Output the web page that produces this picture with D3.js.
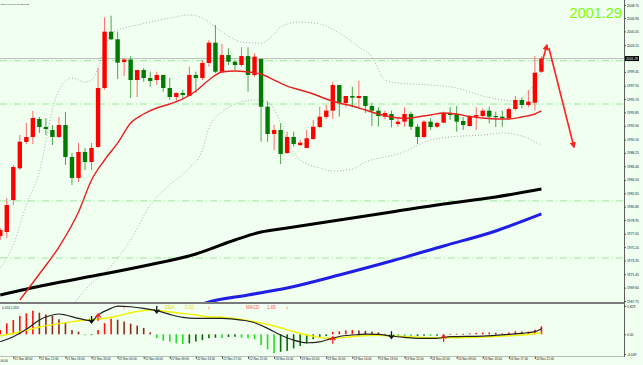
<!DOCTYPE html>
<html><head><meta charset="utf-8">
<script src="https://cdn.jsdelivr.net/npm/d3@7"></script>
<style>html,body{margin:0;padding:0;background:#F0FFF0;overflow:hidden}text{font-family:"Liberation Sans",Arial,sans-serif}</style>
</head><body><svg id="c" width="643" height="365"></svg>
<script>
// ---- DATA (bar index k runs from -2 to 81, hourly bars) ----
const firstBar = -2;
const openV  = [1976.74,1977.30,1981.72,1986.11,1989.75,1990.44,1992.93,1991.82,1991.41,1990.44,1992.10,1987.67,1984.77,1988.37,1986.98,1989.06,1997.22,2005.01,2003.96,2000.81,2001.16,1998.32,1999.71,1998.60,1998.32,1999.02,1997.22,1995.97,1996.53,1996.11,1999.02,1998.60,2000.68,2003.49,1999.47,2001.78,2000.86,2000.40,2001.64,1999.02,2001.23,1994.63,1990.85,1991.41,1988.22,1990.44,1989.33,1988.92,1990.16,1991.82,1993.21,1994.08,1997.63,1995.14,1996.11,1995.83,1996.11,1994.73,1994.08,1993.25,1993.62,1992.24,1992.56,1993.62,1991.86,1990.44,1992.56,1991.86,1992.42,1993.76,1993.62,1992.65,1991.96,1993.25,1993.34,1994.08,1993.34,1993.25,1993.03,1994.31,1995.56,1994.87,1995.18,1999.47];
const highV  = [1977.85,1982.00,1986.57,1990.72,1992.38,1994.04,1993.21,1993.07,1992.10,1993.21,1993.90,1988.22,1989.61,1988.92,1989.61,1999.98,2007.00,2007.22,2005.01,2001.37,2001.64,1999.71,1999.98,1999.47,1999.47,1999.02,1998.60,1996.57,1996.94,2000.16,1999.47,2001.09,2003.86,2005.93,2003.31,2002.71,2001.09,2002.85,2002.85,2002.02,2001.30,1995.32,1992.10,1992.33,1991.17,1991.17,1990.02,1991.41,1992.79,1994.63,1994.87,1998.09,1997.63,1996.11,1997.39,1998.23,1996.11,1995.18,1994.55,1994.08,1994.08,1993.03,1994.55,1993.94,1992.24,1992.79,1993.03,1992.56,1993.94,1994.55,1994.73,1993.21,1993.48,1994.55,1994.41,1994.63,1993.94,1994.08,1994.55,1996.11,1995.93,1996.94,2001.64,2001.60];
const lowV   = [1976.19,1976.47,1981.03,1985.87,1989.47,1989.47,1990.99,1990.72,1989.33,1990.30,1986.57,1983.80,1984.21,1985.87,1985.87,1988.92,1996.94,2003.86,1998.46,1998.88,1995.83,1995.97,1998.09,1997.39,1997.63,1996.71,1995.56,1995.32,1995.83,1996.11,1996.53,1998.32,2000.16,1999.29,1999.29,2000.40,1999.71,2000.16,1996.71,1998.78,1989.79,1989.79,1988.64,1986.70,1988.09,1989.10,1989.19,1988.87,1990.02,1991.64,1992.93,1992.93,1993.25,1994.55,1994.55,1994.55,1993.76,1991.96,1991.86,1992.89,1991.78,1991.86,1991.86,1991.41,1989.47,1990.26,1991.41,1991.64,1992.33,1992.79,1991.17,1991.41,1991.86,1991.41,1993.17,1992.33,1991.82,1991.86,1992.89,1994.08,1994.41,1994.55,1994.08,1999.33];
const closeV = [1977.57,1981.03,1986.29,1989.79,1990.44,1993.07,1991.82,1991.55,1990.44,1992.10,1987.67,1984.77,1988.37,1986.98,1988.92,1997.22,2005.01,2003.96,2000.72,2001.16,1998.32,1999.71,1998.60,1998.19,1999.02,1997.22,1995.97,1996.53,1996.25,1999.02,1998.60,2000.68,2003.49,1999.47,2001.78,2000.86,2000.40,2001.64,1999.02,2001.55,1994.63,1990.85,1991.41,1988.09,1990.44,1989.47,1989.65,1990.26,1991.86,1993.25,1994.08,1997.63,1995.18,1996.11,1995.88,1996.11,1994.73,1994.08,1993.34,1993.76,1992.79,1992.56,1993.62,1991.86,1990.44,1992.56,1991.82,1992.38,1993.76,1993.48,1992.56,1992.10,1993.34,1993.48,1994.08,1993.25,1993.17,1993.03,1994.31,1995.56,1994.87,1995.32,1999.33,2001.29];

// moving average / band readings: [bar, price]
const redMA = [[1,1967.89],[4,1971.49],[7,1975.22],[10,1980.06],[12,1984.49],[14,1987.26],[16,1989.60],[18,1992.38],[20,1993.62],[22,1994.45],[24,1995.00],[26,1995.70],[28,1996.80],[30,1998.32],[32,1999.43],[34,1999.57],[36,1999.43],[38,1999.15],[40,1998.32],[42,1997.49],[44,1996.94],[46,1996.39],[48,1995.70],[50,1995.14],[52,1994.73],[54,1994.17],[56,1993.62],[58,1993.21],[60,1993.00],[62,1993.21],[64,1993.48],[66,1993.76],[68,1993.62],[70,1993.27],[72,1993.07],[74,1992.93],[76,1992.93],[78,1993.21],[80,1993.62],[81,1994.04]];
const bbUpper = [[-2,1972.32],[0,1975.50],[2,1981.03],[4,1985.60],[6,1994.17],[7,1996.94],[9,1998.60],[11,1998.05],[12,1998.32],[13,1999.98],[14,2002.75],[15,2004.69],[17,2005.52],[19,2005.93],[21,2006.35],[24,2006.90],[27,2007.32],[29,2006.90],[31,2005.66],[33,2004.41],[35,2003.58],[38,2003.44],[40,2004.69],[41,2005.66],[44,2006.35],[47,2006.07],[50,2004.83],[53,2002.89],[55,2001.51],[57,1998.32],[59,1997.91],[64,1997.63],[68,1997.22],[72,1996.11],[75,1995.56],[77,1995.42],[79,1996.66],[81,1999.43]];
const bbLower = [[9,1966.93],[11,1969.27],[15,1972.59],[18,1976.19],[21,1981.03],[24,1983.80],[27,1986.15],[29,1988.64],[30,1991.68],[32,1993.90],[34,1995.00],[37,1995.56],[39,1995.28],[41,1992.38],[42,1990.02],[44,1987.26],[47,1986.15],[49,1985.73],[52,1986.01],[54,1986.98],[57,1987.67],[59,1988.09],[64,1990.02],[67,1990.44],[72,1990.72],[75,1990.99],[78,1990.58],[80,1989.75],[81,1989.33]];
const blackMA = [[-2,1968.58],[5,1969.96],[13,1971.35],[20,1972.59],[28,1974.25],[34,1976.19],[38,1977.30],[42,1977.85],[50,1978.95],[58,1980.06],[66,1981.17],[74,1982.14],[81,1983.24]];
const blueMA = [[28,1967.06],[30,1967.61],[36,1968.58],[42,1969.55],[50,1971.35],[58,1973.28],[66,1975.36],[74,1977.44],[81,1979.79]];
const levelLines = [2001.00, 1995.00, 1981.60, 1973.70];
const bidPrice = 2001.29;

// MACD panel
const macdHist = [0.88,2.26,2.94,3.77,4.32,4.86,4.45,4.10,3.77,3.09,2.39,0.88,0.54,-0.12,-0.10,0.90,2.30,3.20,3.00,2.60,2.20,1.80,1.30,0.40,-0.80,-1.30,-1.50,-1.85,-2.00,-1.85,-1.50,-1.20,-0.80,-0.70,-0.75,-0.55,-0.50,-0.70,-0.80,-1.00,-2.20,-3.10,-3.90,-3.60,-3.40,-2.90,-2.40,-1.90,-1.00,-0.70,-0.35,0.50,0.60,0.80,0.90,0.80,0.70,0.55,0.40,0.10,-0.30,-0.35,-0.35,-0.40,-0.35,-0.30,-0.35,-0.30,0.05,0.10,0.12,0.10,0.20,0.30,0.38,0.38,0.30,0.20,0.38,0.62,0.55,0.55,0.96,1.65];
const difLine = [[-2,-1.52],[0,-0.49],[2,1.03],[4,2.94],[6,3.97],[7,4.18],[8,3.97],[10,3.29],[12,2.80],[13,3.97],[15,5.35],[16,5.82],[18,5.68],[20,5.35],[22,4.86],[24,4.10],[26,3.50],[28,3.29],[30,3.29],[32,3.29],[35,2.94],[37,2.39],[39,1.23],[41,-0.14],[43,-1.20],[45,-1.73],[47,-1.55],[48,-1.17],[50,-0.45],[52,-0.14],[54,0.06],[56,0.00],[58,-0.35],[60,-0.62],[62,-0.82],[65,-0.82],[67,-0.49],[72,-0.35],[76,0.00],[78,0.21],[80,0.54],[81,1.15]];
const deaLine = [[-2,-0.35],[1,0.47],[4,1.50],[7,2.20],[8,2.39],[11,2.94],[13,3.09],[16,3.77],[18,4.45],[21,5.00],[23,4.80],[25,4.45],[28,3.97],[30,3.62],[32,3.50],[37,2.59],[40,1.71],[43,0.54],[46,-0.40],[48,-0.82],[51,-0.62],[53,-0.35],[56,-0.20],[58,-0.35],[61,-0.49],[64,-0.70],[67,-0.70],[73,-0.49],[78,-0.14],[81,0.32]];
const crossArrowBars = [12, 13, 22, 49, 58, 66];
const crossArrowTips = [2.33, 4.18, 4.38, -0.49, -0.82, -0.14];
const crossArrowDirs = ["down","up","down","up","down","up"];

const priceTicks = [2008.70,2006.90,2005.05,2003.15,1999.45,1997.55,1995.70,1993.85,1992.00,1990.10,1988.25,1986.40,1984.50,1982.65,1980.80,1978.95,1977.05,1975.20,1973.35,1971.45,1969.60,1967.75];
const macdTicks = [5.829, 0.00, -4.049];
const macdTickText = ["5.829", "0.00", "-4.049"];
const timeBars = [0,4,8,12,16,20,24,28,32,36,40,44,48,52,56,60,64,68,72,76,80];
const timeLabels = ["21 Nov 08:00","21 Nov 12:00","21 Nov 16:00","21 Nov 20:00","22 Nov 00:00","22 Nov 04:00","22 Nov 09:00","22 Nov 13:00","22 Nov 17:00","22 Nov 21:00","23 Nov 01:00","23 Nov 05:00","23 Nov 10:00","23 Nov 14:00","23 Nov 18:00","23 Nov 22:00","24 Nov 02:00","24 Nov 09:00","24 Nov 13:00","24 Nov 17:00","24 Nov 21:00"];
const leftTimeFragment = "00:00";
const forecastArrows = [[[81.0,2000.51],[81.85,2003.16]], [[82.15,2002.75],[86.0,1989.03]]];
const headerText = "2001.00 1999.38 2001.29";
const macdHeader = "0.324 1.653";
const deaName = "DEA:", deaValue = "0.32";
const macdName = "MACD:", macdValue = "1.65";
const upMarkBars = [17, 30, 42];

// ---- DRAW ----
const svg = d3.select("#c");
const W = 643, H = 365, axisX = 624;
const x = d3.scaleLinear().domain([-2, 81]).range([0.26, 541.42]);
const y = d3.scaleLinear().domain([1967.75, 2008.70]).range([301, 5]);
const m = d3.scaleLinear().domain([-4.049, 5.829]).range([354, 306]);
const tickFont = 3.3, timeFont = 3.0, txtCol = "#1a1a1a";

svg.append("rect").attr("width", W).attr("height", H).attr("fill", "#F0FFF0");
const defs = svg.append("defs");
defs.append("clipPath").attr("id","cm").append("rect").attr("x",0).attr("y",0).attr("width",axisX).attr("height",302);
defs.append("clipPath").attr("id","cd").append("rect").attr("x",0).attr("y",304).attr("width",axisX).attr("height",52);
defs.append("marker").attr("id","ah").attr("viewBox","0 0 10 10").attr("refX",8).attr("refY",5)
  .attr("markerWidth",4).attr("markerHeight",4).attr("orient","auto")
  .append("path").attr("d","M0,0 L10,5 L0,10 z").attr("fill","#FF2020");

const gm = svg.append("g").attr("clip-path","url(#cm)");
gm.selectAll("line.lvl").data(levelLines).join("line")
  .attr("x1",0).attr("x2",axisX).attr("y1",d=>y(d)).attr("y2",d=>y(d))
  .attr("stroke","#9CE89C").attr("stroke-width",1).attr("stroke-dasharray","7,3,1,3");
gm.append("line").attr("x1",0).attr("x2",axisX).attr("y1",y(bidPrice)).attr("y2",y(bidPrice))
  .attr("stroke","#B8C0B8").attr("stroke-width",1);

const lineGen = d3.line().x(d=>x(d[0])).y(d=>y(d[1])).curve(d3.curveMonotoneX);
gm.append("path").attr("d",lineGen(bbUpper)).attr("fill","none").attr("stroke","#A0A8A0").attr("stroke-width",0.9).attr("stroke-dasharray","1,2");
gm.append("path").attr("d",lineGen(bbLower)).attr("fill","none").attr("stroke","#A0A8A0").attr("stroke-width",0.9).attr("stroke-dasharray","1,2");
gm.append("path").attr("d",lineGen(blackMA)).attr("fill","none").attr("stroke","#000").attr("stroke-width",3);
gm.append("path").attr("d",lineGen(blueMA)).attr("fill","none").attr("stroke","#1E1EE6").attr("stroke-width",3);

const bars = openV.map((o,i)=>({k:firstBar+i,o,h:highV[i],l:lowV[i],c:closeV[i]}));
const cg = gm.append("g");
cg.selectAll("line.w").data(bars).join("line")
  .attr("x1",d=>x(d.k)).attr("x2",d=>x(d.k)).attr("y1",d=>y(d.h)).attr("y2",d=>y(d.l))
  .attr("stroke",d=>d.c>=d.o?"#FF6A6A":"#4CA64C").attr("stroke-width",1);
cg.selectAll("rect.b").data(bars).join("rect")
  .attr("x",d=>x(d.k)-2.2).attr("width",4.4)
  .attr("y",d=>y(Math.max(d.o,d.c)))
  .attr("height",d=>Math.max(1.2, Math.abs(y(d.o)-y(d.c))))
  .attr("fill",d=>d.c>=d.o?"#FF0000":"#007A00");

gm.append("path").attr("d",lineGen(redMA)).attr("fill","none").attr("stroke","#E82020").attr("stroke-width",1.4);

forecastArrows.forEach(a=>{
  gm.append("line").attr("x1",x(a[0][0])).attr("y1",y(a[0][1])).attr("x2",x(a[1][0])).attr("y2",y(a[1][1]))
    .attr("stroke","#FF2020").attr("stroke-width",1.6).attr("marker-end","url(#ah)");
});

svg.append("text").attr("x",1).attr("y",5).attr("font-size",2.5).attr("fill",txtCol).text(headerText);
svg.append("text").attr("x",622).attr("y",17.5).attr("text-anchor","end").attr("font-size",14.5).attr("fill","#7CFC00").text(bidPrice.toFixed(2));

svg.append("rect").attr("x",0).attr("y",302).attr("width",axisX).attr("height",2).attr("fill","#7A7A7A");
svg.append("line").attr("x1",axisX+0.5).attr("x2",axisX+0.5).attr("y1",0).attr("y2",357).attr("stroke","#606060").attr("stroke-width",1);
svg.append("line").attr("x1",0).attr("x2",axisX).attr("y1",356.5).attr("y2",356.5).attr("stroke","#909090").attr("stroke-width",0.6);

const ya = d3.axisRight(y).tickValues(priceTicks).tickFormat(d3.format(".2f")).tickSize(2).tickPadding(1);
const yag = svg.append("g").attr("transform",`translate(${axisX},0)`).call(ya);
yag.select(".domain").remove();
yag.selectAll("text").attr("font-size",tickFont).attr("fill",txtCol);
yag.selectAll("line").attr("stroke","#555");
svg.append("rect").attr("x",axisX+1).attr("y",y(bidPrice)-2.5).attr("width",14).attr("height",5).attr("fill","#000");
svg.append("text").attr("x",axisX+2).attr("y",y(bidPrice)+1.2).attr("font-size",tickFont).attr("fill","#fff").text(bidPrice.toFixed(2));

const gd = svg.append("g").attr("clip-path","url(#cd)");
const histColor = (v,i)=>{const p = i>0?macdHist[i-1]:v; if(v>=0) return v>=p?"#FF1010":"#8E2A1A"; return v<=p?"#22DD22":"#0A6A0A";};
gd.selectAll("rect.h").data(macdHist).join("rect")
  .attr("x",(d,i)=>x(firstBar+i)-0.8).attr("width",1.6)
  .attr("y",d=>Math.min(m(d),m(0))).attr("height",d=>Math.max(0.8,Math.abs(m(d)-m(0))))
  .attr("fill",(d,i)=>histColor(d,i));
const ml = d3.line().x(d=>x(d[0])).y(d=>m(d[1])).curve(d3.curveMonotoneX);
gd.append("path").attr("d",ml(deaLine)).attr("fill","none").attr("stroke","#F2F200").attr("stroke-width",1.4);
gd.append("path").attr("d",ml(difLine)).attr("fill","none").attr("stroke","#222").attr("stroke-width",1.2);
crossArrowBars.forEach((k,i)=>{
  const cx = x(k), ty = m(crossArrowTips[i]);
  const up = crossArrowDirs[i]==="up", col = up?"#FF1A1A":"#111", s = up?1:-1;
  gd.append("line").attr("x1",cx).attr("x2",cx).attr("y1",ty+s*1).attr("y2",ty+s*7).attr("stroke",col).attr("stroke-width",1.3);
  gd.append("path").attr("d",`M${cx-2.6},${ty+s*3.4} L${cx},${ty} L${cx+2.6},${ty+s*3.4}`).attr("fill","none").attr("stroke",col).attr("stroke-width",1.3);
});
svg.append("text").attr("x",2).attr("y",308.5).attr("font-size",3.2).attr("fill",txtCol).text(macdHeader);
svg.append("text").attr("x",165).attr("y",308.5).attr("font-size",4.5).attr("fill","#E8D800").text(deaName);
svg.append("text").attr("x",185).attr("y",308.5).attr("font-size",4.5).attr("fill","#E8D800").text(deaValue);
svg.append("text").attr("x",246).attr("y",308.5).attr("font-size",4.5).attr("fill","#FF5A5A").text(macdName);
svg.append("text").attr("x",267).attr("y",308.5).attr("font-size",4.5).attr("fill","#FF5A5A").text(macdValue);
svg.selectAll("text.upm").data(upMarkBars).join("text").attr("class","upm")
  .attr("x",d=>x(d)).attr("y",309.5).attr("text-anchor","middle").attr("font-size",6).attr("fill","#FF4040").text("↑");

const ma = d3.axisRight(m).tickValues(macdTicks).tickFormat((d,i)=>macdTickText[i]).tickSize(2).tickPadding(1);
const mag = svg.append("g").attr("transform",`translate(${axisX},0)`).call(ma);
mag.select(".domain").remove();
mag.selectAll("text").attr("font-size",tickFont).attr("fill",txtCol);
mag.selectAll("line").attr("stroke","#555");

const xa = d3.axisBottom(x).tickValues(timeBars).tickFormat((d,i)=>timeLabels[i]).tickSize(2.5).tickPadding(0.5);
const xag = svg.append("g").attr("transform","translate(0,356.5)").call(xa);
xag.select(".domain").remove();
xag.selectAll("text").attr("font-size",timeFont).attr("fill",txtCol).attr("text-anchor","start").attr("dx",0.8).attr("dy","0.3em");
xag.selectAll("line").attr("stroke","#555");
svg.append("text").attr("x",0.5).attr("y",361.8).attr("font-size",timeFont).attr("fill",txtCol).text(leftTimeFragment);
</script></body></html>
